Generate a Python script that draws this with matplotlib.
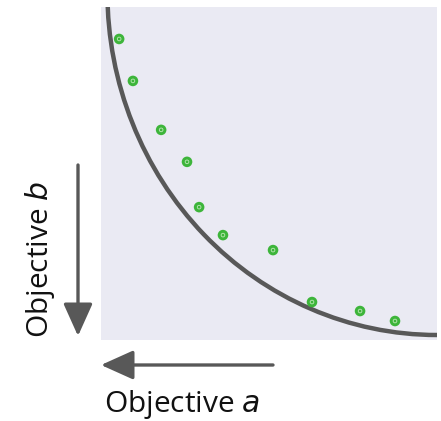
import matplotlib
matplotlib.use('Agg')
import matplotlib.pyplot as plt
from matplotlib.patches import Arc

# trade-off front: a quarter ellipse (0-100 units)
front_center = (100, 104.5)
front_radius_a = 98.1
front_radius_b = 103.0

# solutions found
sol_a = [5.4, 9.5, 17.9, 25.6, 29.2, 36.3, 51.2, 62.8, 77.1, 87.5]
sol_b = [90.4, 77.8, 63.1, 53.5, 39.9, 31.5, 27.0, 11.4, 8.7, 5.7]

grey = '#585858'
green = '#3db53a'

fig = plt.figure(figsize=(4.41, 4.21), dpi=100)
ax = fig.add_axes([101 / 441, 1 - 340 / 421, 336 / 441, 333 / 421])
ax.set_facecolor('#eaeaf3')
for s in ax.spines.values():
    s.set_visible(False)
ax.set_xticks([])
ax.set_yticks([])
ax.set_xlim(0, 100)
ax.set_ylim(0, 100)

front = Arc(front_center, 2 * front_radius_a, 2 * front_radius_b, theta1=180, theta2=270,
            color=grey, lw=3.2, zorder=2)
ax.add_patch(front)
ax.scatter(sol_a, sol_b, s=58, color=green, edgecolors='none', zorder=3)
ax.scatter(sol_a, sol_b, s=7, facecolors='none', edgecolors='#bfe8b8', linewidths=0.6, zorder=4)

# arrows (figure pixels, origin bottom-left)
arrow = dict(arrowstyle='-|>,head_length=1.0,head_width=0.45', color=grey, lw=2.4,
             mutation_scale=20, shrinkA=0, shrinkB=0)
ax.annotate('', xy=(78, 421 - 336), xytext=(78, 421 - 165), xycoords='figure pixels',
            textcoords='figure pixels', arrowprops=arrow, annotation_clip=False)
ax.annotate('', xy=(101, 421 - 365), xytext=(273, 421 - 365), xycoords='figure pixels',
            textcoords='figure pixels', arrowprops=arrow, annotation_clip=False)

font = ['Open Sans', 'DejaVu Sans']
fig.text(104 / 441, 1 - 412 / 421, 'Objective $\\mathit{a}$', fontsize=21.5, family=font,
         ha='left', va='baseline', color='#111111')
fig.text(48 / 441, 1 - 338 / 421, 'Objective $\\mathit{b}$', fontsize=21.5, family=font,
         rotation=90, ha='left', va='baseline', rotation_mode='anchor', color='#111111')

fig.savefig('out.png', dpi=100)
